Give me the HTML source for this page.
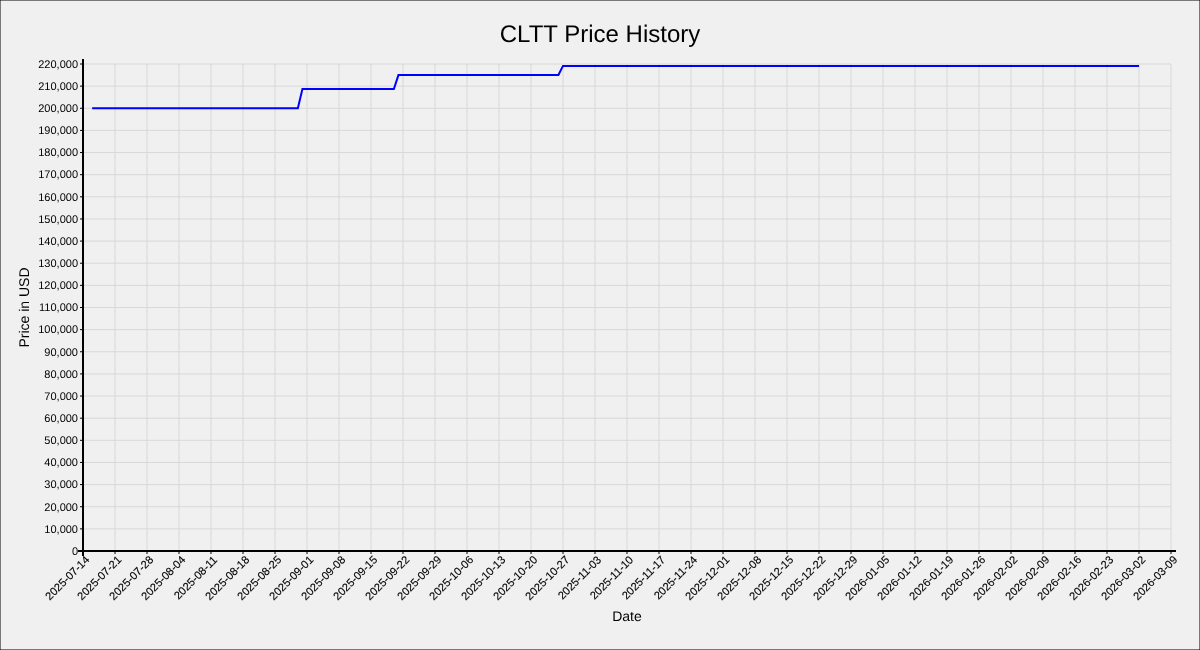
<!DOCTYPE html>
<html><head><meta charset="utf-8"><title>CLTT Price History</title>
<style>
html,body{margin:0;padding:0;}
body{width:1200px;height:650px;overflow:hidden;background:#f0f0f0;}
.wrap{position:relative;width:1200px;height:650px;background:#f0f0f0;}
svg{position:absolute;left:0;top:0;font-family:"Liberation Sans", Arial, sans-serif;text-rendering:geometricPrecision;}
</style></head><body><div class="wrap">
<svg width="1200" height="650" viewBox="0 0 1200 650" >
<path d="M83 64V551M115 64V551M147 64V551M179 64V551M211 64V551M243 64V551M275 64V551M307 64V551M339 64V551M371 64V551M403 64V551M435 64V551M467 64V551M499 64V551M531 64V551M563 64V551M595 64V551M627 64V551M659 64V551M691 64V551M723 64V551M755 64V551M787 64V551M819 64V551M851 64V551M883 64V551M915 64V551M947 64V551M979 64V551M1011 64V551M1043 64V551M1075 64V551M1107 64V551M1139 64V551M1171 64V551M83 551.000H1171M83 528.864H1171M83 506.727H1171M83 484.591H1171M83 462.455H1171M83 440.318H1171M83 418.182H1171M83 396.045H1171M83 373.909H1171M83 351.773H1171M83 329.636H1171M83 307.500H1171M83 285.364H1171M83 263.227H1171M83 241.091H1171M83 218.955H1171M83 196.818H1171M83 174.682H1171M83 152.545H1171M83 130.409H1171M83 108.273H1171M83 86.136H1171M83 64.000H1171" stroke="#d8d8d8" stroke-width="1" fill="none"/>
<path d="M80 551.000H83M80 528.864H83M80 506.727H83M80 484.591H83M80 462.455H83M80 440.318H83M80 418.182H83M80 396.045H83M80 373.909H83M80 351.773H83M80 329.636H83M80 307.500H83M80 285.364H83M80 263.227H83M80 241.091H83M80 218.955H83M80 196.818H83M80 174.682H83M80 152.545H83M80 130.409H83M80 108.273H83M80 86.136H83M80 64.000H83M83 551V554M115 551V554M147 551V554M179 551V554M211 551V554M243 551V554M275 551V554M307 551V554M339 551V554M371 551V554M403 551V554M435 551V554M467 551V554M499 551V554M531 551V554M563 551V554M595 551V554M627 551V554M659 551V554M691 551V554M723 551V554M755 551V554M787 551V554M819 551V554M851 551V554M883 551V554M915 551V554M947 551V554M979 551V554M1011 551V554M1043 551V554M1075 551V554M1107 551V554M1139 551V554M1171 551V554" stroke="#000000" stroke-width="1" fill="none"/>
<path d="M83 59V556M78 551H1176" stroke="#000" stroke-width="2" fill="none"/>
<path d="M92.14 108.27L297.86 108.27L302.43 89.01L393.86 89.01L398.43 75.07L558.43 75.07L563.00 65.88L1139.00 65.88" stroke="#0000ff" stroke-width="2" fill="none" stroke-linejoin="miter"/>
<g font-size="11" text-anchor="end" fill="#000"><text x="78" y="554.80">0</text><text x="78" y="532.66">10,000</text><text x="78" y="510.53">20,000</text><text x="78" y="488.39">30,000</text><text x="78" y="466.25">40,000</text><text x="78" y="444.12">50,000</text><text x="78" y="421.98">60,000</text><text x="78" y="399.85">70,000</text><text x="78" y="377.71">80,000</text><text x="78" y="355.57">90,000</text><text x="78" y="333.44">100,000</text><text x="78" y="311.30">110,000</text><text x="78" y="289.16">120,000</text><text x="78" y="267.03">130,000</text><text x="78" y="244.89">140,000</text><text x="78" y="222.75">150,000</text><text x="78" y="200.62">160,000</text><text x="78" y="178.48">170,000</text><text x="78" y="156.35">180,000</text><text x="78" y="134.21">190,000</text><text x="78" y="112.07">200,000</text><text x="78" y="89.94">210,000</text><text x="78" y="67.80">220,000</text></g>
<g font-size="11.12" text-anchor="end" fill="#000" stroke="#000" stroke-width="0.12"><text transform="translate(90 560.5) rotate(-45)">2025-07-14</text><text transform="translate(122 560.5) rotate(-45)">2025-07-21</text><text transform="translate(154 560.5) rotate(-45)">2025-07-28</text><text transform="translate(186 560.5) rotate(-45)">2025-08-04</text><text transform="translate(218 560.5) rotate(-45)">2025-08-11</text><text transform="translate(250 560.5) rotate(-45)">2025-08-18</text><text transform="translate(282 560.5) rotate(-45)">2025-08-25</text><text transform="translate(314 560.5) rotate(-45)">2025-09-01</text><text transform="translate(346 560.5) rotate(-45)">2025-09-08</text><text transform="translate(378 560.5) rotate(-45)">2025-09-15</text><text transform="translate(410 560.5) rotate(-45)">2025-09-22</text><text transform="translate(442 560.5) rotate(-45)">2025-09-29</text><text transform="translate(474 560.5) rotate(-45)">2025-10-06</text><text transform="translate(506 560.5) rotate(-45)">2025-10-13</text><text transform="translate(538 560.5) rotate(-45)">2025-10-20</text><text transform="translate(570 560.5) rotate(-45)">2025-10-27</text><text transform="translate(602 560.5) rotate(-45)">2025-11-03</text><text transform="translate(634 560.5) rotate(-45)">2025-11-10</text><text transform="translate(666 560.5) rotate(-45)">2025-11-17</text><text transform="translate(698 560.5) rotate(-45)">2025-11-24</text><text transform="translate(730 560.5) rotate(-45)">2025-12-01</text><text transform="translate(762 560.5) rotate(-45)">2025-12-08</text><text transform="translate(794 560.5) rotate(-45)">2025-12-15</text><text transform="translate(826 560.5) rotate(-45)">2025-12-22</text><text transform="translate(858 560.5) rotate(-45)">2025-12-29</text><text transform="translate(890 560.5) rotate(-45)">2026-01-05</text><text transform="translate(922 560.5) rotate(-45)">2026-01-12</text><text transform="translate(954 560.5) rotate(-45)">2026-01-19</text><text transform="translate(986 560.5) rotate(-45)">2026-01-26</text><text transform="translate(1018 560.5) rotate(-45)">2026-02-02</text><text transform="translate(1050 560.5) rotate(-45)">2026-02-09</text><text transform="translate(1082 560.5) rotate(-45)">2026-02-16</text><text transform="translate(1114 560.5) rotate(-45)">2026-02-23</text><text transform="translate(1146 560.5) rotate(-45)">2026-03-02</text><text transform="translate(1178 560.5) rotate(-45)">2026-03-09</text></g>
<text x="600" y="42" font-size="24" text-anchor="middle" fill="#000">CLTT Price History</text>
<text x="627.0" y="621" font-size="14" text-anchor="middle" fill="#000">Date</text>
<text transform="translate(29 307.5) rotate(-90)" font-size="14" text-anchor="middle" fill="#000">Price in USD</text>
<rect x="0" y="0" width="1200" height="650" fill="none" stroke="#000" stroke-width="1"/>
</svg></div></body></html>
